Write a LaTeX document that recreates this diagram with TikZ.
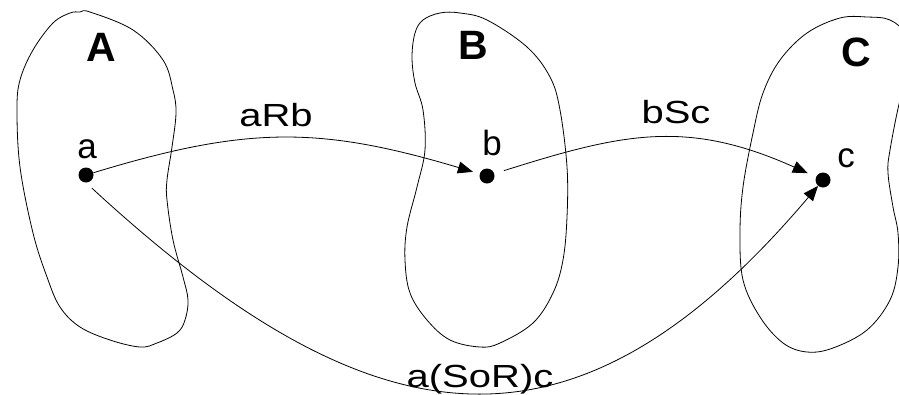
\documentclass[tikz,border=0pt]{standalone}
\usepackage{fontspec}
\setmainfont{Liberation Sans}
\newfontfamily\widesans[FakeStretch=1.25]{Liberation Sans}
\usetikzlibrary{arrows.meta}
\begin{document}
\begin{tikzpicture}[x=1pt,y=-1pt,
  setline/.style={line width=0.8pt},
  elem/.style={circle,fill=black,inner sep=0pt,minimum size=15pt},
  setname/.style={font=\fontsize{41}{41}\selectfont\bfseries},
  elemname/.style={font=\fontsize{35}{35}\selectfont},
  relname/.style={font=\widesans\fontsize{32}{32}\selectfont},
  rel/.style={line width=0.8pt,-{Triangle[length=15pt,width=12pt]}}]
\useasboundingbox (0,0) rectangle (899,394);
\clip (0,0) rectangle (899,394);

% the three sets
\draw[setline] plot[smooth cycle,tension=0.6] coordinates {
  (80,12) (90,12) (133,30) (163,60) (173,90) (176,113) (172,147) (167,180)
  (167,200) (173,240) (183,277) (188,300) (185,320) (177,333) (157,343)
  (140,347) (110,340) (80,327) (60,307) (47,277) (33,233) (20,167) (17,110)
  (20,80) (33,50) (53,23) (70,13)};
\draw[setline] plot[smooth cycle,tension=0.6] coordinates {
  (440,13) (460,13) (487,20) (527,47) (550,77) (560,110) (567,167) (567,217)
  (563,260) (553,293) (533,323) (500,343) (480,347) (450,340) (427,320)
  (410,293) (405,260) (407,227) (417,187) (425,150) (423,110) (415,83)
  (412,57) (415,33) (423,20)};
\draw[setline] plot[smooth cycle,tension=0.6] coordinates {
  (840,18) (867,17) (890,20) (905,35) (910,70) (900,100) (890,150) (888,173)
  (893,207) (898,233) (898,267) (890,300) (867,330) (833,348) (807,352)
  (783,343) (760,317) (743,280) (740,233) (743,187) (753,133) (763,93)
  (780,60) (807,33)};

\node[setname] (setA) at (101,47) {A};
\node[setname] (setB) at (473,45) {B};
\node[setname] (setC) at (856,52) {C};

% elements
\node[elem] (a) at (86,175) {};
\node[elem] (b) at (487,176) {};
\node[elem] (c) at (823,180) {};
\node[elemname] (la) at (87,149) {a};
\node[elemname] (lb) at (492,143) {b};
\node[elemname] (lc) at (846,158) {c};

% relations
\draw[rel,shorten >=7pt] (a) .. controls (247,126) and (319,126) .. (b);
\draw[rel,shorten <=10pt,shorten >=9pt] (b) .. controls (623,133) and (687,119) .. (c);
\draw[rel,shorten <=8pt] (a.south) .. controls (375,449) and (575,473) .. (c);

\node[relname] (aRb) at (276,115) {aRb};
\node[relname] (bSc) at (676,112) {bSc};
\node[relname] (SoR) at (480,379) {a(SoR)c};
\end{tikzpicture}
\end{document}
